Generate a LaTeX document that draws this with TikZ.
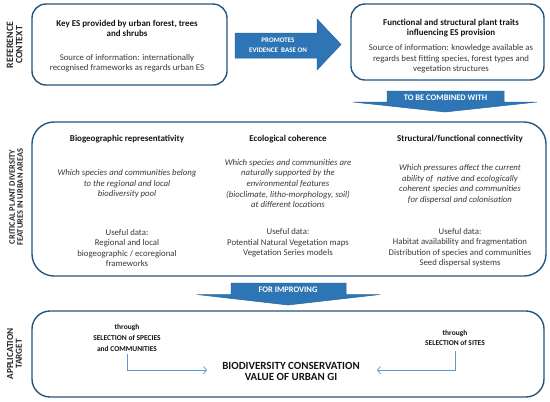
\documentclass[tikz,border=0pt]{standalone}
\usepackage{fontspec}
\usepackage{graphicx}
\setmainfont{Carlito}
\usetikzlibrary{arrows.meta}
\definecolor{boxblue}{HTML}{24557F}
\definecolor{arrblue}{HTML}{2E75B6}
\definecolor{arrdark}{HTML}{2A659C}
\definecolor{lineblue}{HTML}{5B9BD5}
\definecolor{txtgray}{HTML}{383838}
\newcommand{\sidelabel}[3]{\resizebox{#1}{!}{\begin{tabular}{@{}c@{}}#2\\[-1.5pt]#3\end{tabular}}}
\begin{document}
\begin{tikzpicture}[x=1bp,y=-1bp,
  panel/.style={draw=boxblue, line width=1.4pt, inner sep=0, rounded corners=#1},
  panel/.default=14bp,
  txt/.style={align=center, text=txtgray, inner sep=0, font=\fontsize{8.8}{10.4}\selectfont},
  itxt/.style={txt, font=\fontsize{8.8}{10.6}\selectfont\itshape},
  head/.style={align=center, text=black!92, inner sep=0, font=\fontsize{9}{10}\selectfont\bfseries},
  side/.style={text=black!85, inner sep=0, rotate=90, font=\fontsize{8}{9}\selectfont\bfseries},
  blockarrow/.style={fill=arrblue, draw=arrdark, line width=0.5pt},
  arrtxt/.style={align=center, text=white, inner sep=0, font=\fontsize{7}{10}\selectfont\bfseries},
  arrtxtb/.style={arrtxt, font=\fontsize{8.5}{10}\selectfont\bfseries},
  conn/.style={draw=lineblue, line width=0.8pt, -{Straight Barb[length=3bp,width=7bp]}},
  small/.style={align=center, text=black!92, inner sep=0, font=\fontsize{7.5}{10.7}\selectfont\bfseries}
]
\useasboundingbox (0,0) rectangle (550,401);

% side labels
\node[side] (lblref) at (15.5,45) {\sidelabel{46bp}{REFERENCE}{CONTEXT}};
\node[side] (lblcrit) at (17,197) {\sidelabel{97bp}{CRITICAL PLANT DIVERSITY}{FEATURES IN URBAN AREAS}};
\node[side] (lblapp) at (15.5,354) {\sidelabel{51bp}{APPLICATION}{TARGET}};

% panels
\node[panel, minimum width=195bp, minimum height=81bp] (boxes) at (129.5,44.5) {};
\node[panel, minimum width=193bp, minimum height=76bp] (boxtraits) at (447.5,42) {};
\node[panel=22bp, minimum width=514bp, minimum height=154bp] (boxcrit) at (289,199) {};
\node[panel=18bp, minimum width=512bp, minimum height=86bp] (boxapp) at (288,354) {};

% box 1
\node[head] (estitle) at (127,28.5) {Key ES provided by urban forest, trees\\and shrubs};
\node[txt] (essrc) at (127,63) {Source of information: internationally\\recognised frameworks as regards urban ES};

% box 2
\node[head] (trtitle) at (451,28) {Functional and structural plant traits\\influencing ES provision};
\node[txt] (trsrc) at (451,59) {Source of information: knowledge available as\\regards best fitting species, forest types and\\vegetation structures};

% right block arrow
\path[blockarrow] (235,33) -- (317,33) -- (317,19) -- (341,44.5) -- (317,70) -- (317,58) -- (235,58) -- cycle;
\node[arrtxt] (promotes) at (278,45.5) {PROMOTES\\EVIDENCE\ \ BASE ON};

% down arrow 1
\path[blockarrow] (387,91) -- (504,91) -- (504,102) -- (537,102) -- (445,112) -- (353,102) -- (387,102) -- cycle;
\node[arrtxtb] (combined) at (445.5,97.5) {TO BE COMBINED WITH};

% middle columns
\node[head] (h1) at (127,139) {Biogeographic representativity};
\node[head] (h2) at (288,139) {Ecological coherence};
\node[head] (h3) at (460,139) {Structural/functional connectivity};

\node[itxt] (q1) at (127,184) {Which species and communities belong\\to the regional and local\\biodiversity pool};
\node[itxt] (q2) at (288,183.5) {Which species and communities are\\naturally supported by the\\environmental features\\(bioclimate, litho-morphology, soil)\\at different locations};
\node[itxt] (q3) at (460,184) {Which pressures affect the current\\ability of\ \ native and ecologically\\coherent species and communities\\for dispersal and colonisation};

\node[txt] (d1) at (127,248) {Useful data:\\Regional and local\\biogeographic / ecoregional\\frameworks};
\node[txt] (d2) at (288,243) {Useful data:\\Potential Natural Vegetation maps\\Vegetation Series models};
\node[txt] (d3) at (460,247.5) {Useful data:\\Habitat availability and fragmentation\\Distribution of species and communities\\Seed dispersal systems};

% down arrow 2
\path[blockarrow] (231,283) -- (346,283) -- (346,294.5) -- (380,294.5) -- (288,305) -- (197,294.5) -- (231,294.5) -- cycle;
\node[arrtxtb] (improving) at (288,290) {FOR IMPROVING};

% bottom panel
\node[small] (selsp) at (127,338) {through\\SELECTION of SPECIES\\and COMMUNITIES};
\node[small] (selsite) at (455,338) {through\\SELECTION of SITES};
\node[align=center, text=black!92, inner sep=0, font=\fontsize{11}{11.5}\selectfont\bfseries] (bio) at (291,371.5) {BIODIVERSITY CONSERVATION\\VALUE OF URBAN GI};

\draw[conn] ([yshift=-2bp]selsp.south) |- ([xshift=-15bp,yshift=1.5bp]bio.west);
\draw[conn] ([yshift=-5bp]selsite.south) |- ([xshift=17bp,yshift=1.5bp]bio.east);
\end{tikzpicture}
\end{document}
